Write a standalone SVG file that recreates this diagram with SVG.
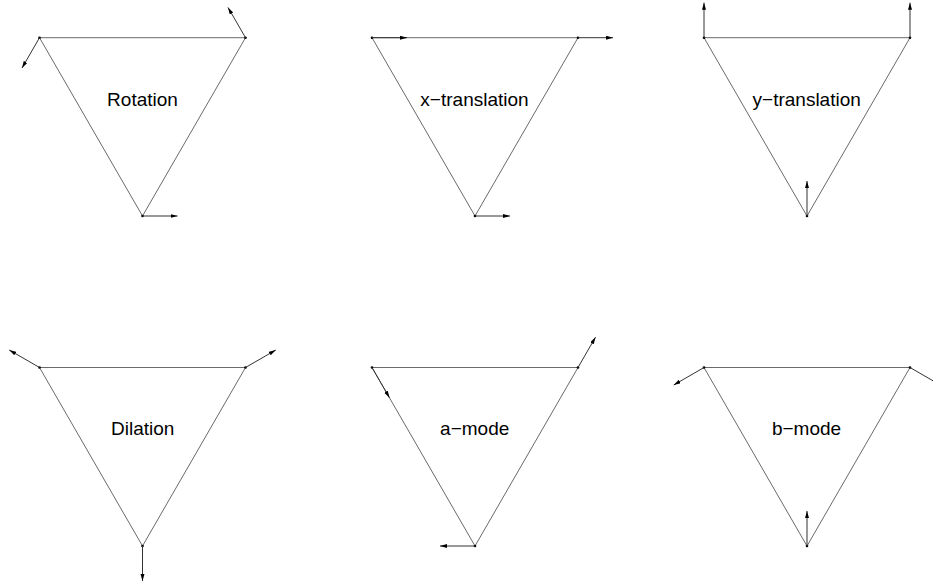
<svg xmlns="http://www.w3.org/2000/svg" width="933" height="586" viewBox="0 0 933 586">
<defs>
<style>
.tri{fill:none;stroke:#6a6a6a;stroke-width:1}
.v{fill:#000}
.lbl{font-family:"Liberation Sans",Arial,Helvetica,sans-serif;font-size:19px;fill:#000;text-anchor:middle}
.arr{stroke:#333;stroke-width:1;fill:none;marker-end:url(#ah)}
</style>
<marker id="ah" markerUnits="userSpaceOnUse" markerWidth="8" markerHeight="5" refX="7" refY="2" orient="auto">
<path d="M0,0 L7,2 L0,4 Z" fill="#000"/>
</marker>
</defs>
<rect width="933" height="586" fill="#fff"/>
<g id="rotation">
<polygon class="tri" points="39.5,37.7 245.5,37.7 142.5,216"/>
<circle class="v" cx="39.5" cy="37.7" r="1.3"/><circle class="v" cx="245.5" cy="37.7" r="1.3"/><circle class="v" cx="142.5" cy="216" r="1.3"/>
<text class="lbl" x="142.5" y="105.5">Rotation</text>
</g>
<g id="x-translation">
<polygon class="tri" points="372,37.7 578,37.7 475,216"/>
<circle class="v" cx="372" cy="37.7" r="1.3"/><circle class="v" cx="578" cy="37.7" r="1.3"/><circle class="v" cx="475" cy="216" r="1.3"/>
<text class="lbl" x="474.5" y="105.5">x−translation</text>
</g>
<g id="y-translation">
<polygon class="tri" points="704,37.7 910,37.7 807,216"/>
<circle class="v" cx="704" cy="37.7" r="1.3"/><circle class="v" cx="910" cy="37.7" r="1.3"/><circle class="v" cx="807" cy="216" r="1.3"/>
<text class="lbl" x="806.7" y="105.5">y−translation</text>
</g>
<g id="dilation">
<polygon class="tri" points="39.5,367.5 245.5,367.5 142.5,546"/>
<circle class="v" cx="39.5" cy="367.5" r="1.3"/><circle class="v" cx="245.5" cy="367.5" r="1.3"/><circle class="v" cx="142.5" cy="546" r="1.3"/>
<text class="lbl" x="142.7" y="435">Dilation</text>
</g>
<g id="a-mode">
<polygon class="tri" points="372,367.5 578,367.5 475,546"/>
<circle class="v" cx="372" cy="367.5" r="1.3"/><circle class="v" cx="578" cy="367.5" r="1.3"/><circle class="v" cx="475" cy="546" r="1.3"/>
<text class="lbl" x="474.7" y="435">a−mode</text>
</g>
<g id="b-mode">
<polygon class="tri" points="704,367.5 910,367.5 807,546"/>
<circle class="v" cx="704" cy="367.5" r="1.3"/><circle class="v" cx="910" cy="367.5" r="1.3"/><circle class="v" cx="807" cy="546" r="1.3"/>
<text class="lbl" x="806.5" y="435">b−mode</text>
</g>
<g id="connectors">
<line class="arr" x1="39.5" y1="37.7" x2="22" y2="68"/>
<line class="arr" x1="245.5" y1="37.7" x2="228" y2="7.4"/>
<line class="arr" x1="142.5" y1="216" x2="177.5" y2="216"/>
<line class="arr" x1="372" y1="37.7" x2="407" y2="37.7"/>
<line class="arr" x1="578" y1="37.7" x2="613" y2="37.7"/>
<line class="arr" x1="475" y1="216" x2="510" y2="216"/>
<line class="arr" x1="704" y1="37.7" x2="704" y2="2.7"/>
<line class="arr" x1="910" y1="37.7" x2="910" y2="2.7"/>
<line class="arr" x1="807" y1="216" x2="807" y2="181"/>
<line class="arr" x1="39.5" y1="367.5" x2="9.2" y2="350"/>
<line class="arr" x1="245.5" y1="367.5" x2="275.8" y2="350"/>
<line class="arr" x1="142.5" y1="546" x2="142.5" y2="581"/>
<line class="arr" x1="372" y1="367.5" x2="389.5" y2="397.8"/>
<line class="arr" x1="578" y1="367.5" x2="595.5" y2="337.2"/>
<line class="arr" x1="475" y1="546" x2="440" y2="546"/>
<line class="arr" x1="704" y1="367.5" x2="673.7" y2="385"/>
<line class="arr" x1="910" y1="367.5" x2="940.3" y2="385"/>
<line class="arr" x1="807" y1="546" x2="807" y2="511"/>
</g>
</svg>
